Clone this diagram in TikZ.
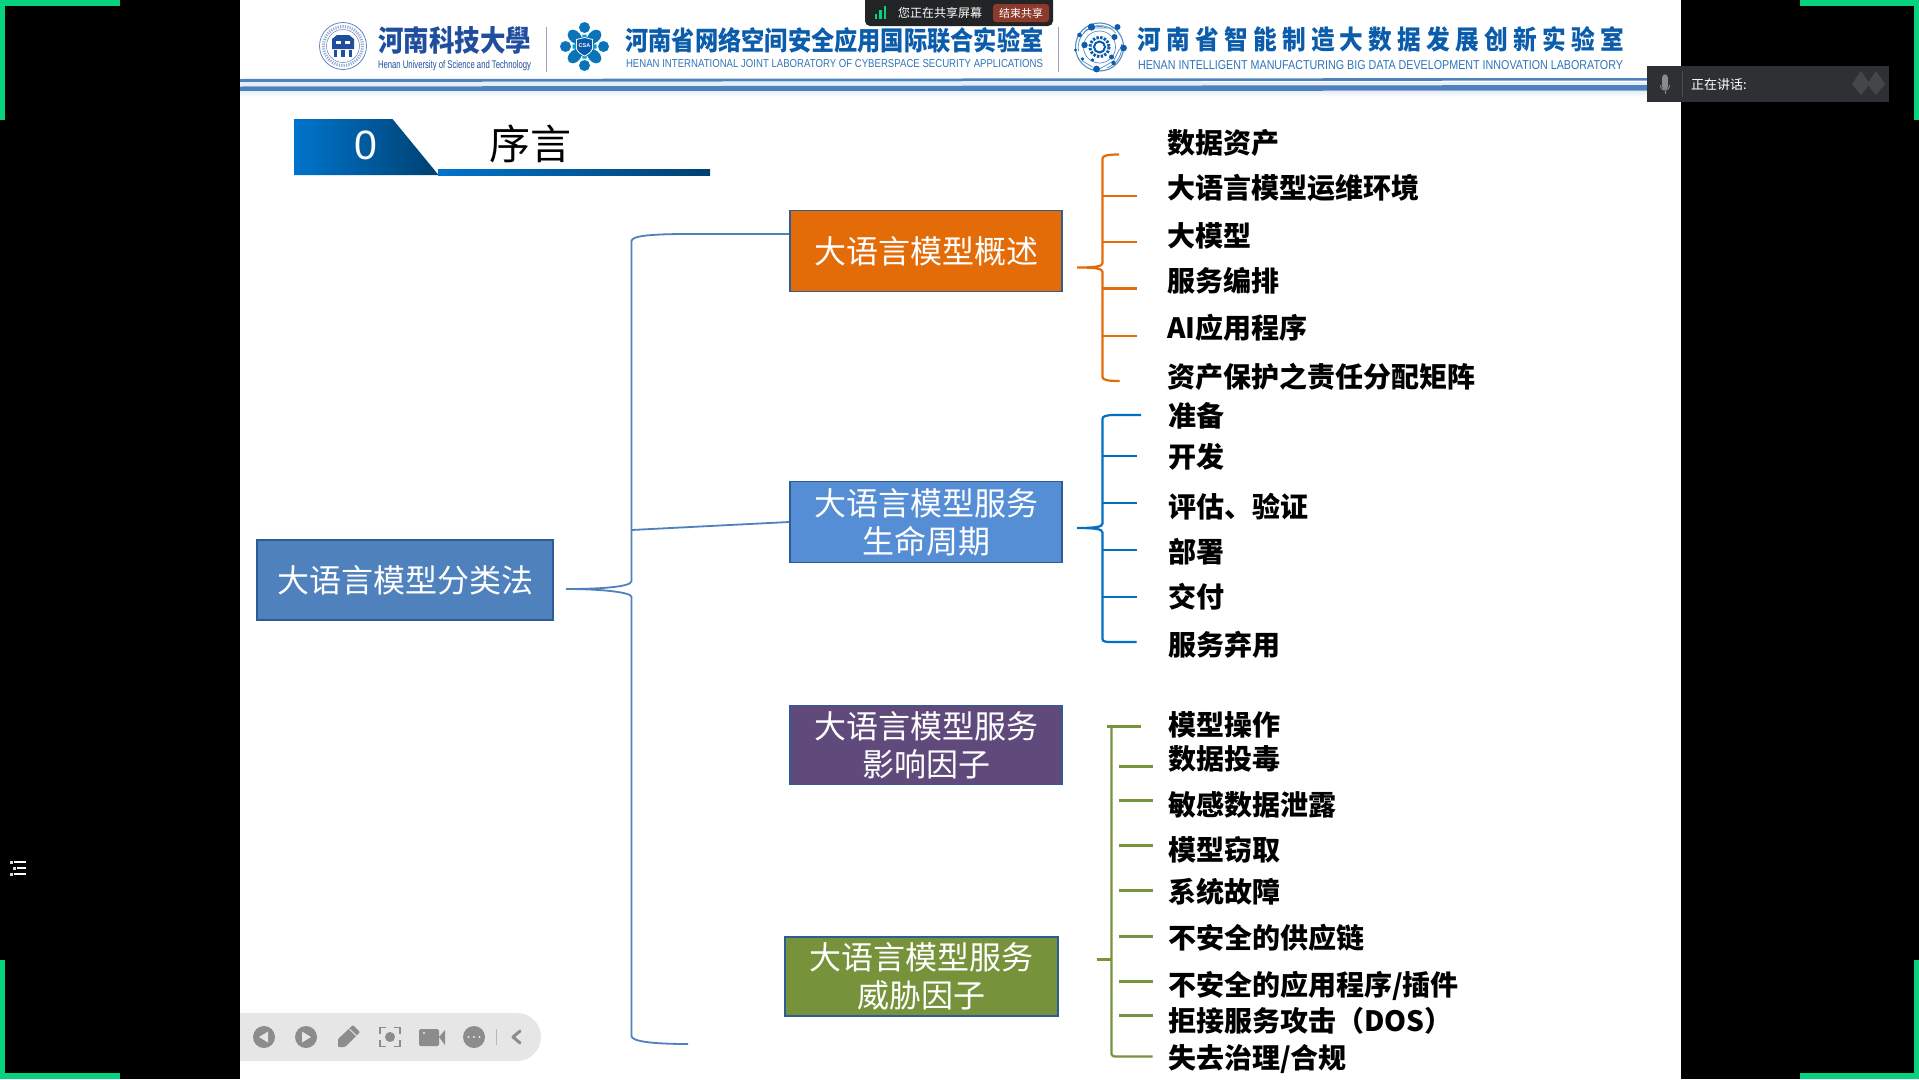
\documentclass[tikz,border=0pt]{standalone}
\usepackage{graphicx}
\usepackage{fontspec}
\setmainfont{Noto Sans CJK SC}
\newfontfamily\lat{Liberation Sans}
\newfontfamily\wide[LetterSpace=22]{Noto Sans CJK SC}
\usetikzlibrary{shapes.geometric}
\definecolor{rootblue}{HTML}{4F81BD}
\definecolor{edgeblue}{HTML}{2F5C94}
\definecolor{orangeA}{HTML}{E36C09}
\definecolor{blueB}{HTML}{558ED5}
\definecolor{purpleC}{HTML}{604A7B}
\definecolor{greenD}{HTML}{76933C}
\definecolor{braceO}{HTML}{E36C09}
\definecolor{braceB}{HTML}{0070C0}
\definecolor{braceG}{HTML}{77933C}
\definecolor{zoomgreen}{HTML}{07D27F}
\definecolor{logoblue}{HTML}{0B5CAB}
\definecolor{sealblue}{HTML}{1F4E9E}
\definecolor{panel}{HTML}{2E3033}
\definecolor{sharebar}{HTML}{232426}
\definecolor{endred}{HTML}{8B3A2B}
\definecolor{bargray}{HTML}{E6E6E6}
\definecolor{icongray}{HTML}{8C8C8C}
\definecolor{secA}{HTML}{0074CC}
\definecolor{secB}{HTML}{004070}
\definecolor{rulelight}{HTML}{E6EEF7}
\definecolor{diamondgray}{HTML}{44464A}
\definecolor{dividergray}{HTML}{4A4C4E}
\tikzset{
  catbox/.style={draw=edgeblue,line width=1.6pt,minimum width=272.5pt,minimum height=81pt,inner sep=0pt,text=white,font=\fontsize{32}{38}\selectfont,align=center,anchor=center},
  leaf/.style={anchor=west,inner sep=0pt,font=\fontsize{28}{30}\bfseries\selectfont,text=black},
  rootbrace/.style={draw=rootblue,line width=1.8pt},
  obrace/.style={draw=braceO,line width=2.2pt},
  bbrace/.style={draw=braceB,line width=2.2pt},
  gbrace/.style={draw=braceG,line width=2.2pt},
  corner/.style={fill=zoomgreen,draw=none},
  icon/.style={fill=icongray,draw=none},
  logoline/.style={draw=logoblue!70,line width=.7pt},
}
\begin{document}
\begin{tikzpicture}[x=1pt,y=-1pt]
\useasboundingbox (0,0) rectangle (1919,1079);
\fill[black] (0,0) rectangle (1919,1079);
\fill[white] (240,0) rectangle (1680.5,1079);
% corners
\fill[corner] (0,0) rectangle (120,6); \fill[corner] (0,0) rectangle (5,120);
\fill[corner] (1800,0) rectangle (1919,6); \fill[corner] (1914,0) rectangle (1919,120);
\fill[corner] (0,1073) rectangle (120,1079); \fill[corner] (0,960) rectangle (5,1079);
\fill[corner] (1800,1073) rectangle (1919,1079); \fill[corner] (1914,960) rectangle (1919,1079);
% outline icon at left
\foreach \yy/\xx/\sx in {862/10/14,868/13/17,874/10/14}{
  \fill[white!85!black] (\xx,\yy-1) rectangle ++(2.5,2.5);
  \fill[white] (\sx,\yy-1) rectangle (26,\yy+1);
}
% header rules
\fill[rootblue] (240,79) -- (1680,78) -- (1680,80.5) -- (240,82) -- cycle;
\fill[rulelight] (240,82) rectangle (1680,86);
\fill[rootblue] (240,86.5) -- (1680,85) -- (1680,90.5) -- (240,91.5) -- cycle;
\shade[top color=rulelight,bottom color=white] (240,91) rectangle (1680,97);
% seal logo
\begin{scope}[shift={(343,46)}]
  \draw[sealblue!70,line width=.8pt] (0,0) circle (23.5);
  \draw[sealblue!45,line width=3pt,dash pattern=on 1.2pt off 1.2pt] (0,0) circle (19.5);
  \draw[sealblue!70,line width=.5pt] (0,0) circle (16.5);
  \fill[sealblue] (-11,-7) -- (-6,-11) -- (6,-11) -- (11,-7) -- (11,3) -- (-11,3) -- cycle;
  \fill[white] (-7,-5) rectangle (-2,-2); \fill[white] (2,-5) rectangle (7,-2);
  \fill[sealblue] (-9,4) rectangle (-6,11); \fill[sealblue] (-2,4) rectangle (2,11); \fill[sealblue] (6,4) rectangle (9,11);
\end{scope}
\node[anchor=center,inner sep=0pt,text=sealblue] (univ) at (454.5,40) {\resizebox{153pt}{25pt}{\bfseries 河南科技大學}};
\node[anchor=center,inner sep=0pt,text=sealblue] (univen) at (454.5,65.5) {\resizebox{153pt}{8pt}{\lat Henan University of Science and Technology}};
\draw[blue!25!gray!60,line width=1pt] (546.5,27) -- (546.5,72);
% flower logo
\begin{scope}[shift={(584.5,46.5)}]
  \foreach \a in {0,90,180,270}{
    \fill[logoblue!85!cyan,rotate=\a] (19,0) circle (5.5);
  }
  \foreach \a in {45,135,225,315}{
    \fill[logoblue!85!cyan,rotate=\a] (8,-4.5) .. controls (14,-7) and (21,-6) .. (22,0) .. controls (21,6) and (14,7) .. (8,4.5) -- cycle;
  }
  \foreach \a in {0,90,180,270}{
    \fill[logoblue!60!cyan,rotate=\a] (7,-2.5) -- (12,-2) -- (12,2) -- (7,2.5) -- cycle;
  }
  \fill[logoblue,draw=white,line width=.8pt] (-8,-7) -- (0,-9) -- (8,-7) -- (8,2) .. controls (7,6) and (3,8) .. (0,9.5) .. controls (-3,8) and (-7,6) .. (-8,2) -- cycle;
  \node[text=white,inner sep=0pt,font=\lat\bfseries\fontsize{5.5}{6}\selectfont] (csa) at (0,-.5) {CSA};
\end{scope}
\node[anchor=center,inner sep=0pt,text=logoblue] (lab1) at (834.5,40.7) {\resizebox{418pt}{23pt}{\bfseries 河南省网络空间安全应用国际联合实验室}};
\node[anchor=center,inner sep=0pt,text=logoblue!85!white] (lab1en) at (834.5,63.7) {\resizebox{417pt}{8pt}{\lat HENAN INTERNATIONAL JOINT LABORATORY OF CYBERSPACE SECURITY APPLICATIONS}};
\draw[blue!25!gray!60,line width=1pt] (1058,27) -- (1058,72);
% circuit logo
\begin{scope}[shift={(1099.5,47)}]
  \draw[logoline,line width=1.1pt] (0,0) circle (24);
  \draw[logoline] (-16,-14) arc (220:320:21);
  \draw[logoline] (-21,4) arc (170:290:21);
  \draw[logoline] (22,-3) arc (-8:70:22);
  \draw[logoline] (-14,-17) -- (-4,-19) -- (15,-19);
  \draw[logoline] (-2,23) -- (14,14) -- (20,2);
  \draw[logoline] (-17,14) -- (-7,20);
  \draw[logoline] (0,0) circle (16);
  \foreach \x/\y/\r in {-8/-20/3.6,18/-20/3,15/-10/3,-15/-2/3.2,-20/-12/2.3,24/1/3.4,12/10/2.5,-3/22/3.4,-17/12/1.8,-7/13/1.8,14/16/2.2,-24/3/1.6}{
    \fill[logoblue] (\x,\y) circle (\r);
  }
  \draw[logoblue,line width=3pt,dash pattern=on 2.4pt off 1.4pt] (0,0) circle (9.6);
  \draw[logoblue,line width=2.2pt] (0,0) circle (5.4);
  \fill[white] (0,0) circle (4.2);
\end{scope}
\node[anchor=west,inner sep=0pt,text=logoblue] (lab2) at (1137.5,39) {\resizebox{486pt}{23pt}{\wide\bfseries 河南省智能制造大数据发展创新实验室}};
\node[anchor=center,inner sep=0pt,text=logoblue!85!white] (lab2en) at (1380.5,64.7) {\resizebox{485pt}{9pt}{\lat HENAN INTELLIGENT MANUFACTURING BIG DATA DEVELOPMENT INNOVATION LABORATORY}};
% sharing bar
\fill[sharebar,rounded corners=5pt] (865,-8) rectangle (1053,26);
\foreach \x/\h in {876/5,880.5/9,885/13}{ \fill[zoomgreen] (\x-1.3,19) rectangle (\x+1.3,19-\h); }
\node[anchor=west,inner sep=0pt,text=white,font=\fontsize{12}{14}\selectfont] (sharing) at (898,12.5) {您正在共享屏幕};
\node[fill=endred,rounded corners=3pt,text=white,font=\fontsize{11}{13}\selectfont,minimum width=56pt,minimum height=18pt,inner sep=0pt] (endshare) at (1021,13) {结束共享};
% speaking panel
\fill[panel] (1647,66) rectangle (1889,102);
\fill[icongray] (1662.4,77) rectangle (1667.6,87);
\fill[icongray] (1665,77) circle (2.6); \fill[icongray] (1665,87) circle (2.6);
\draw[icongray,line width=.9pt] (1660.5,85) .. controls (1660.5,92) and (1669.5,92) .. (1669.5,85);
\draw[icongray,line width=1pt] (1665,91) -- (1665,94);
\draw[dividergray,line width=.7pt] (1682,71) -- (1682,97);
\node[anchor=west,inner sep=0pt,text=white,font=\fontsize{13}{15}\selectfont] (speaking) at (1691,84.5) {正在讲话:};
\foreach \x in {1861,1876}{ \fill[diamondgray] (\x,71) -- (\x+9,84) -- (\x,95) -- (\x-9,84) -- cycle; }
% section banner
\shade[left color=secA,right color=secB] (294,119) -- (392.5,119) -- (438.5,175) -- (294,175) -- cycle;
\shade[left color=secA,right color=secB] (438,169) rectangle (710,175);
\node[text=white,inner sep=0pt,font=\lat\fontsize{41}{44}\selectfont] (secno) at (365.5,145) {0};
\node[text=black,inner sep=0pt,font=\fontsize{41}{44}\selectfont] (sectitle) at (530,144) {序言};
% category nodes
\node[catbox,fill=rootblue,minimum width=296.5pt,minimum height=80pt] (root) at (405,580) {大语言模型分类法};
\node[catbox,fill=orangeA] (c1) at (926,251) {大语言模型概述};
\node[catbox,fill=blueB] (c2) at (926,522) {大语言模型服务\\生命周期};
\node[catbox,fill=purpleC,minimum height=79pt] (c3) at (926,745) {大语言模型服务\\影响因子};
\node[catbox,fill=greenD,minimum height=79pt] (c4) at (921.5,976.5) {大语言模型服务\\威胁因子};
% root brace
\coordinate (rt) at (566,589);
\coordinate (re) at (688,1044);
\draw[rootbrace] (c1.west |- 0,234) -- (688,234) .. controls (650,234) and (631.5,236) .. (631.5,241) -- (631.5,581)
  .. controls (631.5,587) and (600,589) .. (rt) .. controls (600,589) and (631.5,592) .. (631.5,597) -- (631.5,1036) .. controls (631.5,1041) and (650,1044) .. (re);
\draw[rootbrace] (631.5,530) -- (c2.west);
% orange leaves
\foreach \n/\yy/\t in {a1/142.5/数据资产,a2/187.5/大语言模型运维环境,a3/235.5/大模型,a4/280.5/服务编排,a5/328/AI应用程序,a6/376.5/资产保护之责任分配矩阵}{
  \node[leaf] (\n) at (1167,\yy) {\t};
}
\coordinate (otip) at (1077,267.5);
\coordinate (otop) at (1119,154.5);
\coordinate (obot) at (1119.5,381);
\draw[obrace] (otop) .. controls (1108,154.5) and (1102.5,155.5) .. (1102.5,158.5) -- (1102.5,263)
  .. controls (1102.5,266.5) and (1095,267.5) .. (otip) .. controls (1095,267.5) and (1102.5,268.5) .. (1102.5,272)
  -- (1102.5,377) .. controls (1102.5,380) and (1108,381) .. (obot);
\foreach \yy in {196,242,288.5,336}{ \draw[obrace] (1102.5,\yy) -- (1136.5,\yy); }
% blue leaves
\foreach \n/\yy/\t in {b1/415.5/准备,b2/457/开发,b3/506.5/评估、验证,b4/552/部署,b5/597/交付,b6/645/服务弃用}{
  \node[leaf] (\n) at (1168,\yy) {\t};
}
\coordinate (btip) at (1077,528);
\coordinate (btop) at (1141,415);
\coordinate (bbot) at (1136.5,642);
\draw[bbrace] (btop) -- (1112,415) .. controls (1105,415.5) and (1102.5,416.5) .. (1102.5,419) -- (1102.5,523.5)
  .. controls (1102.5,527) and (1095,528) .. (btip) .. controls (1095,528) and (1102.5,529) .. (1102.5,532.5)
  -- (1102.5,639) .. controls (1102.5,641.5) and (1105,642) .. (1112,642) -- (bbot);
\foreach \yy in {456,503,550,597}{ \draw[bbrace] (1102.5,\yy) -- (1136.5,\yy); }
% green leaves
\foreach \n/\yy/\t in {g1/725/{模型操作},g2/758.5/{数据投毒},g3/804.5/{敏感数据泄露},g4/849.5/{模型窃取},g5/892/{系统故障},g6/937.5/{不安全的供应链},g7/986/{不安全的应用程序/插件},g8/1021/{拒接服务攻击（DOS）},g9/1059/{失去治理/合规}}{
  \node[leaf] (\n) at (1168,\yy) {\t};
}
\coordinate (gtip) at (1096.5,959.5);
\coordinate (gtop) at (1141,726.5);
\coordinate (gtl) at (1107,726.5);
\coordinate (gbot) at (1152.5,1056.5);
\draw[gbrace] (gtl) -- (gtop);
\draw[gbrace] (1111.5,726.5) -- (1111.5,1054) .. controls (1111.5,1056) and (1113,1056.5) .. (1117,1056.5) -- (gbot);
\draw[gbrace] (gtip) -- (1111.5,959.5);
\foreach \yy in {766.5,800.5,845.5,890.5,936.5,981.5,1015.5}{ \draw[gbrace] (1119,\yy) -- (1152.5,\yy); }
% toolbar
\begin{scope}[shift={(0,1)}]
\fill[bargray] (240,1012) -- (517,1012) arc (-90:90:24) -- (240,1060) -- cycle;
\fill[icon] (264,1036) circle (11);
\fill[bargray] (259,1036) -- (268,1030.5) -- (268,1041.5) -- cycle;
\fill[icon] (306,1036) circle (11);
\fill[bargray] (311,1036) -- (302,1030.5) -- (302,1041.5) -- cycle;
\fill[icon,rounded corners=1pt] (338,1046) -- (338,1038) -- (353,1024) -- (360,1031) -- (345,1046) -- cycle;
\draw[bargray,line width=.9pt] (349.5,1028) -- (356.5,1035);
\draw[icongray,line width=1.8pt] (380,1033) -- (380,1026.5) -- (386,1026.5) (394,1026.5) -- (400,1026.5) -- (400,1033) (400,1039) -- (400,1045.5) -- (394,1045.5) (386,1045.5) -- (380,1045.5) -- (380,1039);
\fill[icon] (390,1036) circle (5);
\fill[icon,rounded corners=1.5pt] (419,1028) rectangle (439,1045);
\fill[icon] (439,1036) -- (445,1029) -- (445,1044) -- cycle;
\fill[bargray] (424,1032) circle (1.2);
\fill[icon] (474,1036) circle (11);
\foreach \x in {468.5,474,479.5}{ \fill[bargray] (\x,1036) circle (1.2); }
\draw[bargray!80!black,line width=.5pt] (496,1028) -- (496,1044);
\draw[icongray,line width=3pt,line cap=round,line join=round] (520,1030) -- (513,1036) -- (520,1042);
\end{scope}
\end{tikzpicture}
\end{document}
